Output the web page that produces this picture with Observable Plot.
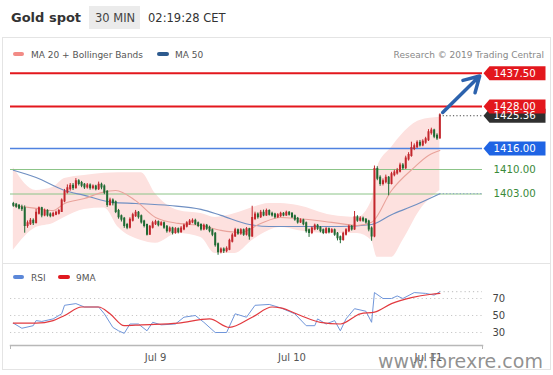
<!DOCTYPE html>
<html><head><meta charset="utf-8">
<script src="https://cdn.jsdelivr.net/npm/d3@7"></script>
<script src="https://cdn.jsdelivr.net/npm/@observablehq/plot@0.6"></script>
<style>
body{margin:0;background:#fff;font-family:"DejaVu Sans",sans-serif;}
#wrap{position:relative;width:553px;height:375px;overflow:hidden;background:#fff;}
.abs{position:absolute;left:0;top:0;}
svg{font-family:"DejaVu Sans",sans-serif;}
</style></head><body>
<div id="wrap">
<svg class="abs" width="553" height="375" id="bg">
  <rect x="2.5" y="37.5" width="548" height="332" fill="none" stroke="#e4e4e4"/>
  <line x1="2.5" x2="550.5" y1="263.5" y2="263.5" stroke="#e4e4e4"/>
  <text x="11" y="22" font-size="13" font-weight="bold" fill="#333">Gold spot</text>
  <rect x="89" y="6" width="51" height="23" fill="#ebebeb"/>
  <text x="95" y="22" font-size="11.5" fill="#444">30 MIN</text>
  <text x="148" y="22" font-size="11.5" fill="#333">02:19:28 CET</text>
  <rect x="13" y="52" width="11" height="4" rx="2" fill="#f28b86"/>
  <text x="31" y="57.5" font-size="9" fill="#555">MA 20 + Bollinger Bands</text>
  <rect x="157" y="52" width="12" height="4" rx="2" fill="#2d5a8e"/>
  <text x="175" y="57.5" font-size="9" fill="#555">MA 50</text>
  <text x="544" y="57.5" font-size="9" fill="#888" text-anchor="end">Research © 2019 Trading Central</text>
  <rect x="13" y="275" width="11" height="4" rx="2" fill="#5b87d8"/>
  <text x="31" y="280.5" font-size="9" fill="#555">RSI</text>
  <rect x="58" y="275" width="12" height="4" rx="2" fill="#e0191f"/>
  <text x="76" y="280.5" font-size="9" fill="#555">9MA</text>
</svg>
<div class="abs" id="main" style="top:62px"></div>
<div class="abs" id="rsi" style="top:280px"></div>
<svg class="abs" width="553" height="375" id="fg" style="pointer-events:none">
  <text x="378" y="368" font-size="19" fill="#7d7d7d" fill-opacity="0.85">www.forexre.com</text>
</svg>
</div>
<script>
// ---- data ----
const firstBarUTC = [2019, 6, 7, 23, 0];   // first 30-min bar (Jul 7 23:00)
const firstOpen = 1400.0;
const close = [
1399.8,1399.5,1399.0,1398.8,1394.0,1394.5,1395.2,1394.8,1397.5,1398.8,
1397.0,1398.0,1397.0,1396.8,1397.2,1397.5,1398.0,1401.0,1403.5,1404.5,
1405.2,1404.8,1406.5,1406.0,1405.5,1405.0,1405.3,1404.8,1405.0,1404.5,
1405.5,1405.0,1403.5,1400.0,1401.0,1400.5,1398.0,1396.5,1395.8,1394.0,
1393.5,1395.5,1396.8,1397.5,1396.5,1395.0,1394.0,1391.5,1393.5,1394.5,
1394.8,1394.2,1394.5,1393.5,1392.5,1393.0,1392.0,1392.8,1392.2,1393.0,
1393.8,1394.5,1395.0,1395.2,1394.5,1394.0,1393.0,1393.8,1393.2,1392.5,
1391.5,1388.5,1386.5,1387.0,1386.8,1387.2,1389.5,1391.0,1392.5,1391.8,
1392.5,1391.5,1392.8,1391.0,1396.0,1397.0,1396.5,1397.5,1397.0,1398.0,
1397.2,1397.0,1396.5,1396.8,1397.2,1397.0,1397.5,1397.2,1396.5,1395.8,
1395.0,1395.3,1394.5,1392.5,1392.0,1393.0,1393.8,1393.2,1392.5,1392.0,
1392.8,1392.2,1392.5,1391.5,1390.5,1390.0,1391.5,1392.5,1393.5,1393.0,
1396.2,1395.5,1395.8,1395.5,1395.0,1393.0,1391.0,1410.0,1407.5,1406.0,
1406.5,1407.5,1406.0,1408.5,1409.0,1409.5,1411.0,1410.5,1413.0,1414.0,
1416.0,1416.5,1417.5,1417.0,1417.8,1418.5,1420.5,1421.0,1419.5,1419.0,
1425.36];
const high = [
1400.6,1400.3,1400.0,1399.8,1399.6,1395.3,1396.0,1395.9,1398.6,1399.3,
1399.2,1398.7,1398.5,1397.6,1397.8,1398.1,1398.6,1401.6,1404.3,1405.6,
1406.0,1406.0,1407.4,1407.1,1406.6,1406.0,1406.0,1405.9,1405.6,1405.5,
1406.4,1406.1,1405.6,1404.0,1401.8,1401.6,1401.0,1398.6,1397.0,1396.3,
1394.6,1396.2,1397.5,1398.3,1398.0,1397.0,1395.5,1394.4,1394.0,1395.2,
1395.5,1395.3,1395.1,1395.0,1394.0,1393.6,1393.5,1393.4,1393.3,1393.7,
1394.4,1395.1,1395.7,1395.9,1395.8,1395.0,1394.5,1394.4,1394.3,1393.8,
1393.0,1392.0,1389.0,1387.6,1387.6,1387.9,1390.1,1391.7,1393.2,1393.0,
1393.1,1393.0,1393.4,1393.2,1399.5,1397.8,1397.6,1398.3,1398.4,1398.7,
1398.5,1397.8,1397.5,1397.4,1397.8,1397.7,1398.1,1398.0,1397.7,1397.0,
1396.3,1395.9,1395.8,1395.0,1393.0,1393.6,1394.4,1394.3,1393.7,1393.0,
1393.4,1393.3,1393.1,1393.0,1392.0,1391.0,1392.1,1393.1,1394.1,1394.0,
1398.0,1396.8,1396.5,1396.4,1396.0,1395.5,1393.6,1411.0,1410.8,1408.2,
1407.3,1408.4,1408.0,1409.2,1409.8,1410.3,1411.8,1411.7,1413.8,1414.8,
1417.8,1417.3,1418.2,1418.3,1418.5,1419.2,1421.4,1421.8,1421.5,1420.2,
1425.9];
const low = [
1399.2,1398.9,1398.5,1398.0,1391.8,1393.2,1394.0,1394.0,1394.5,1397.0,
1396.2,1396.5,1396.4,1396.2,1396.4,1396.8,1397.0,1397.8,1400.5,1403.0,
1403.8,1404.0,1404.4,1405.3,1404.8,1404.3,1404.4,1404.1,1404.2,1403.9,
1404.0,1404.2,1402.8,1399.2,1399.5,1399.6,1397.4,1395.8,1395.0,1393.2,
1392.8,1393.0,1395.0,1396.3,1395.8,1394.4,1393.3,1391.0,1391.2,1393.0,
1394.0,1393.6,1393.8,1392.9,1391.8,1391.9,1391.3,1391.5,1391.6,1391.8,
1392.5,1393.3,1394.0,1394.5,1394.0,1393.4,1392.4,1392.5,1392.6,1391.9,
1390.8,1387.8,1385.5,1385.9,1386.0,1386.2,1386.8,1389.0,1390.6,1391.2,
1391.2,1390.9,1391.0,1389.8,1390.6,1395.4,1395.8,1396.0,1396.5,1396.6,
1396.7,1396.4,1395.9,1396.0,1396.3,1396.5,1396.6,1396.7,1396.0,1395.2,
1394.4,1394.6,1393.9,1391.8,1390.6,1391.4,1392.5,1392.6,1391.9,1391.4,
1391.5,1391.6,1391.7,1390.9,1389.6,1388.8,1389.5,1391.0,1392.0,1392.4,
1392.6,1394.9,1395.0,1394.9,1394.4,1392.2,1389.5,1390.5,1406.8,1405.2,
1405.3,1405.9,1402.5,1405.6,1407.9,1408.4,1409.0,1409.8,1410.0,1412.4,
1413.5,1415.4,1416.0,1416.4,1416.5,1417.2,1418.0,1419.8,1418.8,1418.3,
1418.7];
// [bar index, value]
const ma20 = [[0,1399.7],[8,1398.9],[14,1398.3],[18,1400.3],[25,1401.7],[31,1403.4],[36,1404.0],[43,1401.1],[50,1396.3],[58,1394.6],[66,1394.0],[73,1392.6],[80,1392.0],[87,1394.6],[94,1396.3],[100,1396.0],[112,1394.9],[121,1394.0],[126,1394.9],[133,1404.0],[141,1410.6],[146,1414.0],[150,1415.4]];
// [bar index, upper, lower]
const bollinger = [[0,1410.6,1386.9],[8,1404.0,1393.4],[14,1404.9,1394.6],[18,1407.4,1396.3],[25,1408.3,1398.6],[32,1408.9,1399.0],[37,1409.1,1393.4],[45,1409.1,1389.7],[50,1403.1,1388.9],[58,1398.3,1391.7],[66,1397.4,1390.6],[71,1396.3,1386.0],[78,1397.4,1386.0],[84,1399.1,1389.7],[90,1400.3,1392.6],[94,1400.3,1393.4],[100,1399.7,1392.6],[112,1396.9,1391.7],[121,1396.3,1391.7],[126,1401.1,1389.7],[128,1410.6,1384.9],[133,1416.3,1384.9],[137,1420.3,1389.7],[143,1424.0,1398.3],[150,1424.9,1404.0]];
const ma50 = [[0,1409.8],[8,1407.7],[18,1404.0],[25,1402.6],[35,1400.6],[43,1400.3],[55,1399.7],[66,1398.6],[73,1396.9],[83,1394.3],[90,1393.7],[101,1393.7],[115,1393.7],[126,1394.3],[133,1397.1],[140,1399.4],[150,1403.1]];
const rsi = [[0,41],[3,35],[7,38],[8,44],[10,43],[14,46],[17,52],[18,62],[22,64],[25,60],[30,60],[32,52],[35,36],[37,32],[39,29],[41,40],[44,40],[47,32],[49,42],[52,39],[57,40],[60,48],[64,50],[67,42],[71,30],[75,30],[78,52],[82,48],[85,62],[90,63],[94,59],[99,52],[103,38],[106,38],[107,46],[110,40],[113,44],[115,32],[117,46],[120,58],[124,55],[126,42],[127,77],[130,70],[133,70],[135,73],[137,70],[141,77],[145,76],[148,74],[150,78]];
const rsiMA9 = [[0,41],[8,41],[14,44],[18,50],[24,60],[30,60],[34,52],[39,38],[45,39],[58,41],[69,46],[76,36],[84,48],[91,60],[94,59],[101,50],[108,42],[115,40],[122,52],[127,54],[133,64],[140,71],[147,75],[150,76]];
const levelPrices = [1437.5, 1428.0, 1416.0, 1410.0, 1403.0];
const levelKinds  = ["res", "res", "pivot", "sup", "sup"];
const lastPrice = 1425.36;
const lastMA50 = 1403.1;
const lastRSI = 78;
const rsiTicks = [30, 50, 70];
const dateTicks = ["2019-07-09", "2019-07-10", "2019-07-11"];
const forecast = {fromTime: [2019,6,11,2,30], fromPrice: 1426.3, toTime: [2019,6,11,9,0], toPrice: 1436.7};

// ---- build ----
const utc = a => new Date(Date.UTC(...a));
const HALF = 30 * 60 * 1000;
const t0 = utc(firstBarUTC).getTime();
const tAt = i => new Date(t0 + i * HALF);
const xDomain = [utc([2019,6,7,22,30]), utc([2019,6,11,9,30])];
const lastTime = tAt(close.length - 1);

const bars = close.map((c, i) => ({t: tAt(i), o: i ? close[i-1] : firstOpen, c, h: high[i], l: low[i]}));
const up = bars.filter(d => d.c >= d.o), dn = bars.filter(d => d.c < d.o);
const UP = "#c3272d", DN = "#1f6a33";
const series = arr => arr.map(([i, v]) => ({t: tAt(i), v}));
const bb = bollinger.map(([i, u, l]) => ({t: tAt(i), u, l}));
const levels = levelPrices.map((p, k) => ({p, kind: levelKinds[k]}));
const levelStyle = {res: ["#e3171d", 2], pivot: ["#4f82e0", 1.5], sup: ["#8cc488", 1]};

const tagSymbol = {draw(ctx) { ctx.moveTo(0,0); ctx.lineTo(6,-7); ctx.lineTo(62,-7); ctx.lineTo(62,7); ctx.lineTo(6,7); ctx.closePath(); }};
const tags = [
  {p: lastPrice, fill: "#2f2f2f", label: lastPrice.toFixed(2)},
  {p: levelPrices[0], fill: "#e3171d", label: levelPrices[0].toFixed(2)},
  {p: levelPrices[1], fill: "#e3171d", label: levelPrices[1].toFixed(2)},
  {p: levelPrices[2], fill: "#1f64e4", label: levelPrices[2].toFixed(2)}
];
const plain = levels.filter(d => d.kind === "sup");

const main = Plot.plot({
  width: 553, height: 200, marginLeft: 10, marginRight: 71, marginTop: 0, marginBottom: 0,
  x: {type: "utc", domain: xDomain, axis: null, label: null},
  y: {domain: [1383, 1440], range: [201.5, 2], axis: null, label: null},
  style: {background: "transparent", overflow: "visible", fontFamily: "DejaVu Sans"},
  marks: [
    Plot.areaY(bb, {x: "t", y1: "l", y2: "u", fill: "#fde1df", curve: "monotone-x"}),
    ...levels.map(d => Plot.ruleY([d.p], {stroke: levelStyle[d.kind][0], strokeWidth: levelStyle[d.kind][1]})),
    Plot.line(series(ma50), {x: "t", y: "v", stroke: "#6f8fc2", strokeWidth: 1.1, curve: "monotone-x"}),
    Plot.line(series(ma20), {x: "t", y: "v", stroke: "#e9a39b", strokeWidth: 1.1, curve: "monotone-x"}),
    Plot.ruleX(up, {x: "t", y1: "l", y2: "h", stroke: UP, strokeWidth: 1}),
    Plot.ruleX(dn, {x: "t", y1: "l", y2: "h", stroke: DN, strokeWidth: 1}),
    Plot.ruleX(up, {x: "t", y1: "o", y2: "c", stroke: UP, strokeWidth: 2, strokeLinecap: "square"}),
    Plot.ruleX(dn, {x: "t", y1: "o", y2: "c", stroke: DN, strokeWidth: 2, strokeLinecap: "square"}),
    Plot.ruleY([{p: lastPrice}], {y: "p", x1: () => lastTime, x2: () => xDomain[1], stroke: "#444", strokeDasharray: "1.2,2.2"}),
    Plot.ruleY([{p: lastMA50}], {y: "p", x1: () => lastTime, x2: () => xDomain[1], stroke: "#8aa0c8", strokeDasharray: "1.2,2.2"}),
    Plot.arrow([forecast], {x1: d => utc(d.fromTime), y1: "fromPrice", x2: d => utc(d.toTime), y2: "toPrice", stroke: "#2c62ad", strokeWidth: 3.5, headLength: 11}),
    ...tags.map(d => Plot.dot([d], {y: "p", frameAnchor: "right", dx: 1, symbol: tagSymbol, fill: d.fill, stroke: "none", r: 5})),
    ...tags.map(d => Plot.text([d], {y: "p", text: "label", frameAnchor: "right", dx: 11, textAnchor: "start", fill: "white", fontSize: 10.2})),
    Plot.text(plain, {y: "p", text: d => d.p.toFixed(2), frameAnchor: "right", dx: 11, textAnchor: "start", fill: "#3a8a3a", fontSize: 10.2})
  ]
});
document.getElementById("main").appendChild(main);

const rsiPlot = Plot.plot({
  width: 553, height: 95, marginLeft: 10, marginRight: 71, marginTop: 0, marginBottom: 30,
  x: {type: "utc", domain: xDomain, label: null},
  y: {domain: [30, 70], range: [52, 18], label: null},
  style: {background: "transparent", overflow: "visible", fontFamily: "DejaVu Sans", fontSize: "10px"},
  marks: [
    Plot.ruleY(rsiTicks, {stroke: "#c8c8c8", strokeDasharray: "1.2,3"}),
    Plot.ruleY([{v: lastRSI}], {y: "v", x1: () => lastTime, x2: () => xDomain[1], stroke: "#bbb", strokeDasharray: "1.2,3"}),
    Plot.line(series(rsi), {x: "t", y: "v", stroke: "#7096da", strokeWidth: 1}),
    Plot.line(series(rsiMA9), {x: "t", y: "v", stroke: "#e23a3f", strokeWidth: 1.2, curve: "monotone-x"}),
    Plot.frame({anchor: "bottom", stroke: "#b8b8b8", strokeWidth: 1.5}),
    Plot.axisX({ticks: xDomain, tickSize: 4, tickFormat: () => "", stroke: "#b8b8b8", label: null}),
    Plot.axisX({ticks: dateTicks.map(s => new Date(s + "T00:00Z")), tickSize: 0, tickPadding: 8, tickFormat: d3.utcFormat("%b %-d"), fill: "#555", fontSize: 10, label: null}),
    Plot.axisY({anchor: "right", ticks: rsiTicks, tickSize: 0, tickPadding: 10, fill: "#444", fontSize: 10, label: null})
  ]
});
document.getElementById("rsi").appendChild(rsiPlot);
</script>
</body></html>
